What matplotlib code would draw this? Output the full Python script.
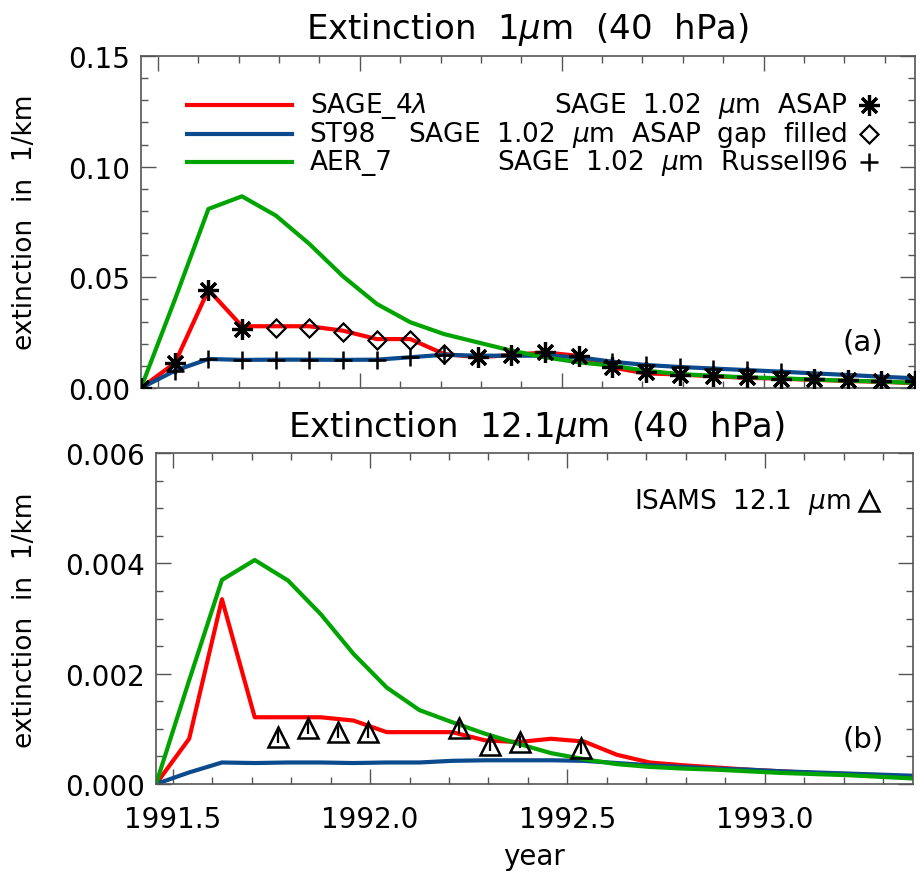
import numpy as np
import matplotlib
matplotlib.use("Agg")
import matplotlib.pyplot as plt
from matplotlib.ticker import MultipleLocator, FormatStrFormatter

plt.rcParams['font.family'] = ['DejaVu Sans']
plt.rcParams['mathtext.fontset'] = 'dejavusans'

# monthly time axis (mid-month), Jun 1991 .. May 1993
years = [1991.458, 1991.542, 1991.625, 1991.708, 1991.792, 1991.875, 1991.958,
         1992.042, 1992.125, 1992.208, 1992.292, 1992.375, 1992.458, 1992.542,
         1992.625, 1992.708, 1992.792, 1992.875, 1992.958, 1993.042, 1993.125,
         1993.208, 1993.292, 1993.375]

# panel (a): 1 um extinction, 1/km
sage4l_1 = [0, 0.0113, 0.0444, 0.0279, 0.0279, 0.0279, 0.0259, 0.0221, 0.0221, 0.0154,
            0.0139, 0.0149, 0.0161, 0.0145, 0.0093, 0.0066, 0.0061, 0.0053, 0.0046, 0.0042,
            0.0037, 0.0032, 0.0028, 0.0022]
st98_1 = [0, 0.0078, 0.0131, 0.0127, 0.0128, 0.0128, 0.0127, 0.0128, 0.0139, 0.0150,
          0.0146, 0.0146, 0.0146, 0.0139, 0.0119, 0.0104, 0.0095, 0.0088, 0.0081, 0.0074,
          0.0066, 0.0059, 0.0051, 0.0044]
aer7_1 = [0, 0.0400, 0.0809, 0.0866, 0.0779, 0.0651, 0.0505, 0.0380, 0.0297, 0.0244,
          0.0206, 0.0169, 0.0139, 0.0116, 0.0101, 0.0078, 0.0063, 0.0055, 0.0048, 0.0044,
          0.0038, 0.0033, 0.0029, 0.0023]

asap_x = [1991.458, 1991.542, 1991.625, 1991.708, 1992.292, 1992.375, 1992.458, 1992.542,
          1992.625, 1992.708, 1992.792, 1992.875, 1992.958, 1993.042, 1993.125, 1993.208,
          1993.292, 1993.375]
asap_y = [0.0, 0.0113, 0.0444, 0.0267, 0.0139, 0.0149, 0.0161, 0.0145, 0.0093, 0.0071,
          0.0060, 0.0056, 0.0048, 0.0041, 0.0041, 0.0038, 0.0033, 0.0033]

gap_x = [1991.792, 1991.875, 1991.958, 1992.042, 1992.125, 1992.208]
gap_y = [0.0270, 0.0270, 0.0254, 0.0217, 0.0217, 0.0154]

russ_x = [1991.542, 1991.625, 1991.708, 1991.792, 1991.875, 1991.958, 1992.042, 1992.125,
          1992.208, 1992.625, 1992.708, 1992.792, 1992.875, 1992.958, 1993.042]
russ_y = [0.0078, 0.0131, 0.0125, 0.0128, 0.0128, 0.0125, 0.0128, 0.0139, 0.0149,
          0.0119, 0.0104, 0.0095, 0.0088, 0.0081, 0.0074]

# panel (b): 12.1 um extinction, 1/km
sage4l_12 = [0, 0.00082, 0.00335, 0.00121, 0.00121, 0.00121, 0.00115, 0.00094, 0.00094,
             0.00094, 0.00079, 0.00076, 0.00082, 0.00077, 0.00053, 0.00039, 0.00034,
             0.00030, 0.00026, 0.00023, 0.00020, 0.00018, 0.00015, 0.00013]
st98_12 = [0, 0.00021, 0.00039, 0.00038, 0.00039, 0.00039, 0.00038, 0.00039, 0.00039,
           0.00042, 0.00043, 0.00043, 0.00043, 0.00042, 0.00038, 0.00034, 0.00031,
           0.00028, 0.00026, 0.00023, 0.00021, 0.00019, 0.00017, 0.00015]
aer7_12 = [0, 0.00188, 0.00370, 0.00406, 0.00369, 0.00308, 0.00236, 0.00175, 0.00134,
           0.00112, 0.00091, 0.00073, 0.00056, 0.00045, 0.00036, 0.00031, 0.00028,
           0.00026, 0.00023, 0.00020, 0.00018, 0.00016, 0.00013, 0.00010]

isams_x = [1991.767, 1991.842, 1991.920, 1991.996, 1992.225, 1992.304, 1992.380, 1992.533]
isams_y = [0.00086, 0.00101, 0.00094, 0.00094, 0.00101, 0.00071, 0.00076, 0.00066]
isams_err = [0.00011, 0.00011, 0.00011, 0.00011, 0.00011, 0.00011, 0.00011, 0.00011]

RED = '#ff0000'
BLUE = '#0b4a8c'
GREEN = '#00a400'
AX_COL = '#555555'
FS = 20
LFS = 19

fig = plt.figure(figsize=(9.23, 8.79), dpi=100)
ax1 = fig.add_axes([141/923, 1-389/879, 774/923, 332/879])
ax2 = fig.add_axes([156/923, 1-785/879, 757/923, 331/879])

asterisk = (8, 2, 0)
diamond = (4, 0, 0)

ax1.plot(years, sage4l_1, color=RED, lw=3, zorder=2)
ax1.plot(years, st98_1, color=BLUE, lw=3, zorder=2)
ax1.plot(years, aer7_1, color=GREEN, lw=3, zorder=2)
ax1.plot(asap_x, asap_y, ls='none', marker=asterisk, ms=15, mew=2.3, color='k', zorder=3)
ax1.plot(gap_x, gap_y, ls='none', marker=diamond, ms=13, mew=1.6, mfc='none', color='k', zorder=3)
ax1.plot(russ_x, russ_y, ls='none', marker='+', ms=13, mew=1.8, color='k', zorder=3)

ax2.plot(years, sage4l_12, color=RED, lw=3, zorder=2)
ax2.plot(years, st98_12, color=BLUE, lw=3, zorder=2)
ax2.plot(years, aer7_12, color=GREEN, lw=3, zorder=2)
ax2.errorbar(isams_x, isams_y, yerr=isams_err, ls='none', marker='^', ms=14, mew=1.8,
             mfc='none', mec='k', ecolor='k', elinewidth=1.6, capsize=0, zorder=3)

for ax in (ax1, ax2):
    ax.set_xlim(1991.458, 1993.375)
    ax.xaxis.set_major_locator(MultipleLocator(0.5))
    ax.xaxis.set_minor_locator(MultipleLocator(0.1))
    ax.tick_params(which='both', direction='in', top=True, right=True, color=AX_COL,
                   width=1, labelsize=FS)
    ax.tick_params(which='major', length=11)
    ax.tick_params(which='minor', length=5)
    ax.tick_params(axis='y', pad=8)
    for s in ax.spines.values():
        s.set_color(AX_COL)
        s.set_linewidth(1.2)

ax1.set_ylim(0, 0.15)
ax1.yaxis.set_major_locator(MultipleLocator(0.05))
ax1.yaxis.set_minor_locator(MultipleLocator(0.01))
ax1.yaxis.set_major_formatter(FormatStrFormatter('%.2f'))
ax1.tick_params(axis='x', labelbottom=False)

ax2.set_ylim(0, 0.006)
ax2.yaxis.set_major_locator(MultipleLocator(0.002))
ax2.yaxis.set_minor_locator(MultipleLocator(0.0005))
ax2.yaxis.set_major_formatter(FormatStrFormatter('%.3f'))
ax2.xaxis.set_major_formatter(FormatStrFormatter('%.1f'))
ax2.tick_params(axis='x', pad=15)

# titles and axis labels
fig.text(527/923, 1-30/879, r'Extinction  1$\mu$m  (40  hPa)', ha='center', va='center', fontsize=24.5)
fig.text(536/923, 1-428/879, r'Extinction  12.1$\mu$m  (40  hPa)', ha='center', va='center', fontsize=24.5)
fig.text(25/923, 1-222/879, 'extinction  in  1/km', rotation=90, ha='center', va='center', fontsize=19)
fig.text(25/923, 1-620/879, 'extinction  in  1/km', rotation=90, ha='center', va='center', fontsize=19)
fig.text(534/923, 1-857/879, 'year', ha='center', va='center', fontsize=FS)

# legend of panel (a)
rows = [0.851, 0.765, 0.680]
line_labels = [r'SAGE_4$\lambda$', 'ST98', 'AER_7']
line_cols = [RED, BLUE, GREEN]
mark_labels = [r'SAGE  1.02  $\mu$m  ASAP', r'SAGE  1.02  $\mu$m  ASAP  gap  filled',
               r'SAGE  1.02  $\mu$m  Russell96']
mark_styles = [dict(marker=asterisk, ms=15, mew=2.3), dict(marker=diamond, ms=13, mew=1.6, mfc='none'),
               dict(marker='+', ms=13, mew=1.8)]
for yy, lab, col, mlab, mst in zip(rows, line_labels, line_cols, mark_labels, mark_styles):
    ax1.plot([0.059, 0.195], [yy, yy], color=col, lw=3, transform=ax1.transAxes)
    ax1.text(0.218, yy, lab, transform=ax1.transAxes, ha='left', va='center', fontsize=LFS)
    ax1.text(0.913, yy, mlab, transform=ax1.transAxes, ha='right', va='center', fontsize=LFS)
    ax1.plot([0.940], [yy], color='k', transform=ax1.transAxes, ls='none', **mst)

ax1.text(0.933, 0.139, '(a)', transform=ax1.transAxes, ha='center', va='center', fontsize=FS + 1)

ax2.text(0.917, 0.856, r'ISAMS  12.1  $\mu$m', transform=ax2.transAxes, ha='right', va='center', fontsize=LFS)
ax2.plot([0.942], [0.856], transform=ax2.transAxes, ls='none', marker='^', ms=14, mew=1.8,
         mfc='none', mec='k')
ax2.text(0.934, 0.136, '(b)', transform=ax2.transAxes, ha='center', va='center', fontsize=FS + 1)

fig.savefig('out.png', dpi=100)
